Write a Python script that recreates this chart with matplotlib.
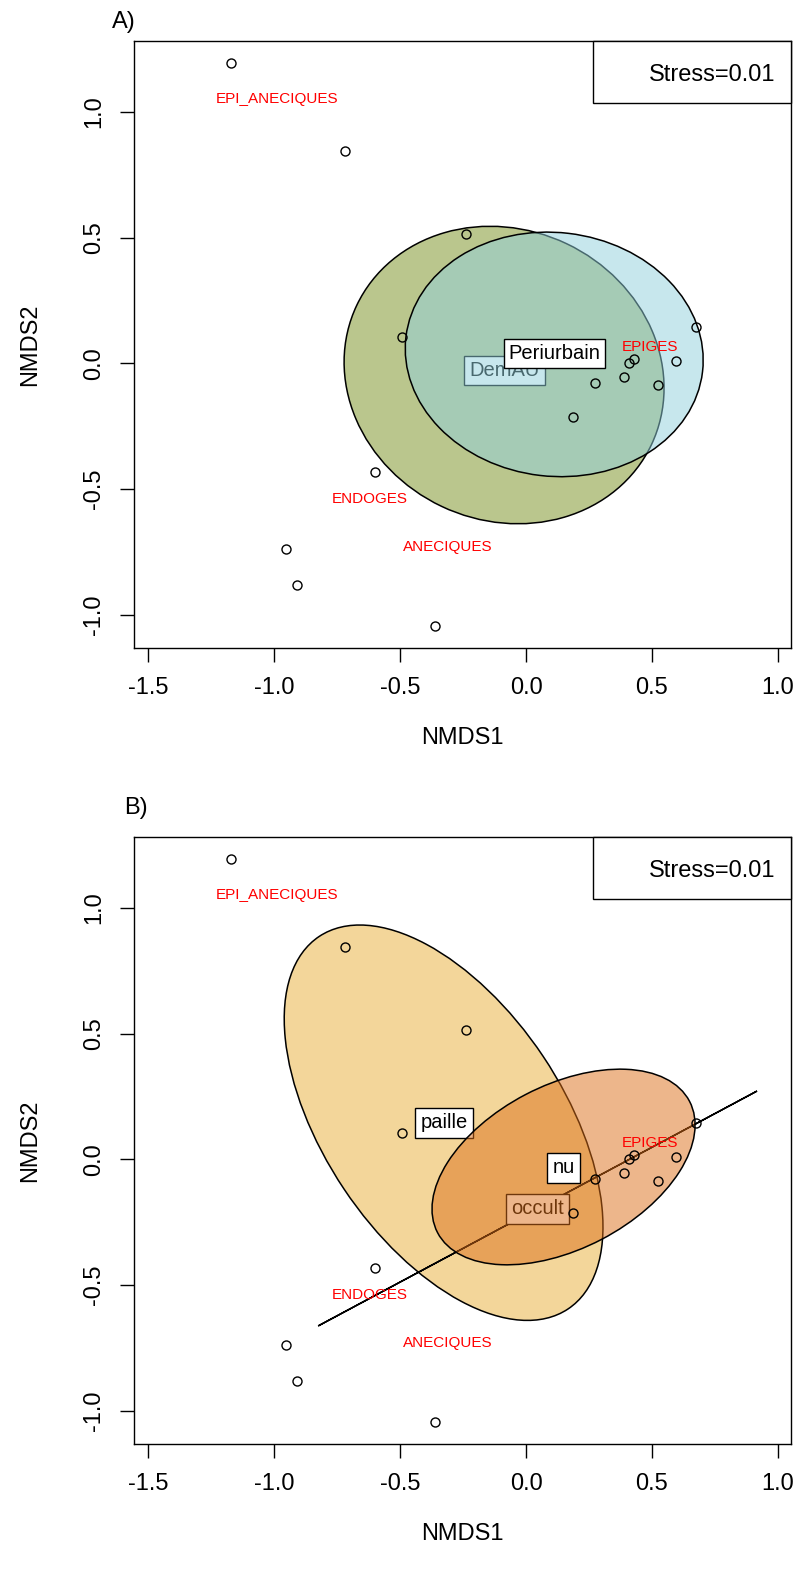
import matplotlib
matplotlib.use('Agg')
import matplotlib.pyplot as plt
from matplotlib.patches import Ellipse, Rectangle
from matplotlib.colors import to_rgba
from matplotlib.ticker import FormatStrFormatter

plt.rcParams['font.family'] = ['Liberation Sans', 'DejaVu Sans']
plt.rcParams['axes.unicode_minus'] = False

# scores des sites (NMDS)
nmds1 = [-1.171, -0.718, -0.238, -0.492, -0.599, -0.952, -0.909, -0.361,
         0.187, 0.274, 0.389, 0.409, 0.429, 0.524, 0.595, 0.675]
nmds2 = [1.195, 0.845, 0.515, 0.105, -0.431, -0.738, -0.881, -1.044,
         -0.213, -0.077, -0.054, 0.002, 0.018, -0.085, 0.010, 0.145]

# groupes ecologiques (texte rouge)
species = ['EPI_ANECIQUES', 'EPIGES', 'ENDOGES', 'ANECIQUES']
species_x = [-0.988, 0.492, -0.619, -0.310]
species_y = [1.052, 0.066, -0.539, -0.730]

stress = 0.01

# A) ellipses DemAU / Periurbain
groups_a = ['DemAU', 'Periurbain']
lab_x_a = [-0.085, 0.113]
lab_y_a = [-0.028, 0.038]
ell_x_a = [-0.087, 0.112]
ell_y_a = [-0.046, 0.036]
ell_w_a = [1.294, 1.185]
ell_h_a = [1.156, 0.969]
ell_ang_a = [-25.4, -6.7]
colors_a = ['#778f1d', '#91d1dd']

# B) ellipses paille / occult / nu  (occult = ellipse degeneree -> ligne)
groups_b = ['paille', 'occult', 'nu']
lab_x_b = [-0.325, 0.046, 0.149]
lab_y_b = [0.145, -0.197, -0.034]
ell_x_b = [-0.327, 0.046, 0.149]
ell_y_b = [0.146, -0.195, -0.030]
ell_w_b = [1.780, 1.976, 1.128]
ell_h_b = [0.950, 0.0, 0.650]
ell_ang_b = [-56.3, 28.2, 27.6]
colors_b = ['#e9af37', '#dd6f19', '#dd6f19']

fig = plt.figure(figsize=(8, 15.7), dpi=100)


def draw_panel(ax, tag, groups, lab_x, lab_y, ell_x, ell_y, ell_w, ell_h, ell_ang, colors):
    z = 2
    for i in range(len(groups)):
        ax.add_patch(Ellipse((ell_x[i], ell_y[i]), ell_w[i], ell_h[i], angle=ell_ang[i],
                             facecolor=to_rgba(colors[i], 0.5), edgecolor='black',
                             lw=1.1, zorder=z))
        ax.text(lab_x[i], lab_y[i], groups[i], ha='center', va='center', fontsize=14.5,
                zorder=z + 1,
                bbox=dict(boxstyle='square,pad=0.25', fc='white', ec='black', lw=1.0))
        z += 2

    ax.plot(nmds1, nmds2, 'o', ms=6.5, mfc='none', mec='black', mew=1.0, zorder=20)
    for s, x, y in zip(species, species_x, species_y):
        ax.text(x, y, s, color='red', fontsize=11, ha='center', va='center', zorder=21)

    # boite du stress en haut a droite
    ax.add_patch(Rectangle((0.6986, 0.8979), 0.3014, 0.1021, transform=ax.transAxes,
                           fc='white', ec='black', lw=1.0, zorder=22, clip_on=False))
    ax.text(0.9756, 0.944, 'Stress=%.2f' % stress, transform=ax.transAxes,
            ha='right', va='center', fontsize=17, zorder=23)

    ax.set_xlim(-1.5556, 1.0516)
    ax.set_ylim(-1.131, 1.282)
    ax.set_xticks([-1.5, -1.0, -0.5, 0.0, 0.5, 1.0])
    ax.set_yticks([-1.0, -0.5, 0.0, 0.5, 1.0])
    ax.xaxis.set_major_formatter(FormatStrFormatter('%.1f'))
    ax.yaxis.set_major_formatter(FormatStrFormatter('%.1f'))
    ax.tick_params(direction='out', length=10, width=1.0, labelsize=17, pad=11)
    plt.setp(ax.get_yticklabels(), rotation=90, va='center')
    for sp in ax.spines.values():
        sp.set_linewidth(1.0)

    ax.set_xlabel('NMDS1', fontsize=17)
    ax.set_ylabel('NMDS2', fontsize=17)
    ax.xaxis.set_label_coords(0.5, -0.148)
    ax.yaxis.set_label_coords(-0.158, 0.5)
    ax.xaxis.label.set_va('center')
    ax.yaxis.label.set_va('center')


ax1 = fig.add_axes([0.1675, 0.5873, 0.82125, 0.3866])
draw_panel(ax1, 'A)', groups_a, lab_x_a, lab_y_a, ell_x_a, ell_y_a, ell_w_a, ell_h_a,
           ell_ang_a, colors_a)
fig.text(112 / 800, 1 - 22 / 1570, 'A)', ha='left', va='center', fontsize=17)

ax2 = fig.add_axes([0.1675, 0.0803, 0.82125, 0.3866])
draw_panel(ax2, 'B)', groups_b, lab_x_b, lab_y_b, ell_x_b, ell_y_b, ell_w_b, ell_h_b,
           ell_ang_b, colors_b)
fig.text(124 / 800, 1 - 808 / 1570, 'B)', ha='left', va='center', fontsize=17)

fig.savefig('out.png', dpi=100)
